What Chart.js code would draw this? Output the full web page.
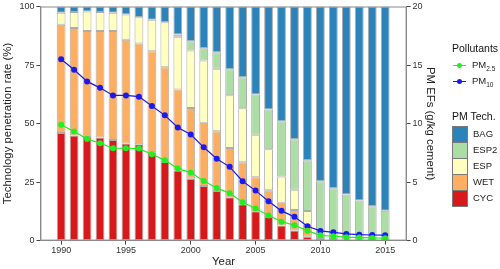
<!DOCTYPE html>
<html>
<head>
<meta charset="utf-8">
<script src="https://cdn.jsdelivr.net/npm/chart.js@4/dist/chart.umd.min.js"></script>
<style>
  body { margin: 0; background: #fff; font-family: "Liberation Sans", Arial, sans-serif; }
  #wrap { position: relative; width: 500px; height: 269px; }
  .leg { position: absolute; color: #222; font-size: 9.5px; white-space: nowrap; }
  .legTitle { position: absolute; color: #111; font-size: 10.5px; white-space: nowrap; }
  .box { position: absolute; width: 14px; height: 15px; border: 1px solid #7a7a7a; }
  sub { font-size: 6.5px; }
</style>
</head>
<body>
<div id="wrap">
  <canvas id="techChart" width="500" height="269"></canvas>

  <div class="legTitle" style="left:452px; top:42px;">Pollutants</div>
  <div style="position:absolute; left:453px; top:65px; width:13px; height:1px; background:#22ee22;"></div>
  <div style="position:absolute; left:457px; top:63px; width:5px; height:5px; border-radius:50%; background:#22ee22;"></div>
  <div class="leg" style="left:472px; top:59px;">PM<sub>2.5</sub></div>
  <div style="position:absolute; left:453px; top:81px; width:13px; height:1px; background:#1a1aee;"></div>
  <div style="position:absolute; left:457px; top:79px; width:5px; height:5px; border-radius:50%; background:#1a1aee;"></div>
  <div class="leg" style="left:472px; top:75px;">PM<sub>10</sub></div>

  <div class="legTitle" style="left:452px; top:110px;">PM Tech.</div>
  <div class="box" style="left:452px; top:126px; background:#2B83BA;"></div>
  <div class="box" style="left:452px; top:142px; background:#ABDDA4;"></div>
  <div class="box" style="left:452px; top:158px; background:#FFFFBF;"></div>
  <div class="box" style="left:452px; top:174px; background:#FDAE61;"></div>
  <div class="box" style="left:452px; top:190px; background:#D7191C;"></div>
  <div class="leg" style="left:473px; top:128px;">BAG</div>
  <div class="leg" style="left:473px; top:144px;">ESP2</div>
  <div class="leg" style="left:473px; top:160px;">ESP</div>
  <div class="leg" style="left:473px; top:176px;">WET</div>
  <div class="leg" style="left:473px; top:192px;">CYC</div>
</div>
<script>
const years = [1990, 1991, 1992, 1993, 1994, 1995, 1996, 1997, 1998, 1999, 2000, 2001, 2002,
               2003, 2004, 2005, 2006, 2007, 2008, 2009, 2010, 2011, 2012, 2013, 2014, 2015];

// technology shares (%), stacked bottom to top
const cyc  = [46.0, 44.9, 44.3, 44.0, 43.0, 41.5, 41.2, 37.7, 33.6, 29.9, 26.4, 23.3, 21.2,
              18.5, 15.5, 12.5, 10.1, 6.4, 4.3, 1.6, 0.3, 0.1, 0.1, 0.1, 0, 0];
const wet  = [46.2, 45.9, 45.2, 45.5, 46.5, 44.3, 43.0, 43.2, 40.5, 34.6, 30.2, 27.0, 25.5,
              21.1, 18.0, 14.6, 11.4, 9.8, 8.8, 5.2, 0.8, 0.6, 0.4, 0.3, 0.3, 0.2];
const esp  = [5.1, 6.9, 8.4, 8.2, 7.8, 10.8, 11.2, 13.4, 19.2, 22.6, 24.6, 26.6, 26.7,
              22.5, 23.0, 18.1, 17.5, 11.2, 8.6, 5.8, 0, 0, 0, 0, 0, 0];
const esp2 = [0, 0, 0, 0, 0, 0, 0, 0, 0, 0.9, 4.0, 5.3, 7.1,
              11.1, 13.3, 17.2, 17.0, 23.6, 21.6, 21.7, 24.2, 21.7, 19.2, 16.7, 14.4, 12.6];
const bag  = [2.7, 2.3, 2.1, 2.3, 2.7, 3.4, 4.6, 5.7, 6.7, 12.0, 14.8, 17.8, 19.5,
              26.8, 30.2, 37.6, 44.0, 49.0, 56.7, 65.7, 74.7, 77.6, 80.3, 82.9, 85.3, 87.2];

// emission factors (g/kg cement)
const pm25 = [9.89, 9.32, 8.69, 8.32, 7.89, 7.89, 7.86, 7.38, 6.87, 6.15, 5.81, 5.10, 4.50,
              4.05, 3.28, 2.74, 2.14, 1.62, 1.31, 0.85, 0.45, 0.37, 0.29, 0.26, 0.23, 0.20];
const pm10 = [15.5, 14.6, 13.6, 13.05, 12.4, 12.4, 12.3, 11.5, 10.7, 9.66, 9.06, 7.97, 7.0,
              6.3, 5.07, 4.27, 3.36, 2.54, 2.03, 1.22, 0.83, 0.71, 0.57, 0.51, 0.48, 0.46];

// zero shares are left out so no empty segment outline is drawn
const pts = arr => arr.map((v, i) => ({ x: years[i], y: v === 0 ? null : v }));

const barStyle = (label, data, color) => ({
    type: 'bar',
    label: label,
    data: pts(data),
    backgroundColor: color,
    borderColor: 'rgba(70, 70, 70, 0.45)',
    borderWidth: 1,
    borderSkipped: false,
    yAxisID: 'y',
    stack: 'tech',
    barPercentage: 0.68,
    categoryPercentage: 1,
    order: 2,
});

const lineStyle = (label, data, color) => ({
    type: 'line',
    label: label,
    data: data.map((v, i) => ({ x: years[i], y: v })),
    borderColor: color,
    backgroundColor: color,
    borderWidth: 1.2,
    pointRadius: 3,
    pointBorderWidth: 0,
    tension: 0,
    yAxisID: 'y2',
    order: 1,
});

const frame = {
    id: 'frame',
    afterDraw(chart) {
        const a = chart.chartArea;
        const ctx = chart.ctx;
        ctx.save();
        ctx.strokeStyle = '#8a8a8a';
        ctx.lineWidth = 1;
        ctx.strokeRect(a.left + 0.5, a.top + 0.5, a.right - a.left - 1, a.bottom - a.top - 1);
        ctx.restore();
    }
};

const tickFont = { family: 'Liberation Sans', size: 9, lineHeight: 1 };
const titleFont = { family: 'Liberation Sans', size: 11.4, lineHeight: 1 };

const techChart = new Chart(document.getElementById('techChart').getContext('2d'), {
    data: {
        datasets: [
            barStyle('CYC', cyc, '#D7191C'),
            barStyle('WET', wet, '#FDAE61'),
            barStyle('ESP', esp, '#FFFFBF'),
            barStyle('ESP2', esp2, '#ABDDA4'),
            barStyle('BAG', bag, '#2B83BA'),
            lineStyle('PM2.5', pm25, '#22ee22'),
            lineStyle('PM10', pm10, '#1a1aee'),
        ],
    },
    options: {
        responsive: false,
        animation: false,
        layout: { padding: { top: 3, right: 59, left: 2, bottom: 1 } },
        scales: {
            x: {
                type: 'linear',
                stacked: true,
                offset: false,
                min: 1988.4,
                max: 2016.65,
                grid: { offset: false, drawOnChartArea: false, drawTicks: true, tickLength: 4, color: '#444' },
                border: { display: true, color: '#8a8a8a' },
                ticks: {
                    stepSize: 5,
                    includeBounds: false,
                    autoSkip: false,
                    maxRotation: 0,
                    padding: 1,
                    color: '#333',
                    font: tickFont,
                    callback: v => String(v),
                },
                title: { display: true, text: 'Year', color: '#222', font: titleFont, padding: { top: 1, bottom: 0 } },
            },
            y: {
                stacked: true,
                position: 'left',
                min: 0,
                max: 100,
                grid: { drawOnChartArea: false, drawTicks: true, tickLength: 4, color: '#444' },
                border: { display: true, color: '#8a8a8a' },
                ticks: { stepSize: 25, padding: 2, color: '#333', font: tickFont },
                title: { display: true, text: 'Technology penetration rate (%)', color: '#222', font: titleFont, padding: { top: 0, bottom: 4 } },
            },
            y2: {
                position: 'right',
                min: 0,
                max: 20,
                grid: { drawOnChartArea: false, drawTicks: true, tickLength: 4, color: '#444' },
                border: { display: true, color: '#8a8a8a' },
                ticks: { stepSize: 5, padding: 2, color: '#333', font: tickFont },
                title: { display: true, text: 'PM EFs (g/kg cement)', color: '#222', font: titleFont, padding: { top: 5, bottom: 0 } },
            },
        },
        plugins: {
            legend: { display: false },
            tooltip: { enabled: false },
        },
    },
    plugins: [frame],
});
</script>
</body>
</html>
